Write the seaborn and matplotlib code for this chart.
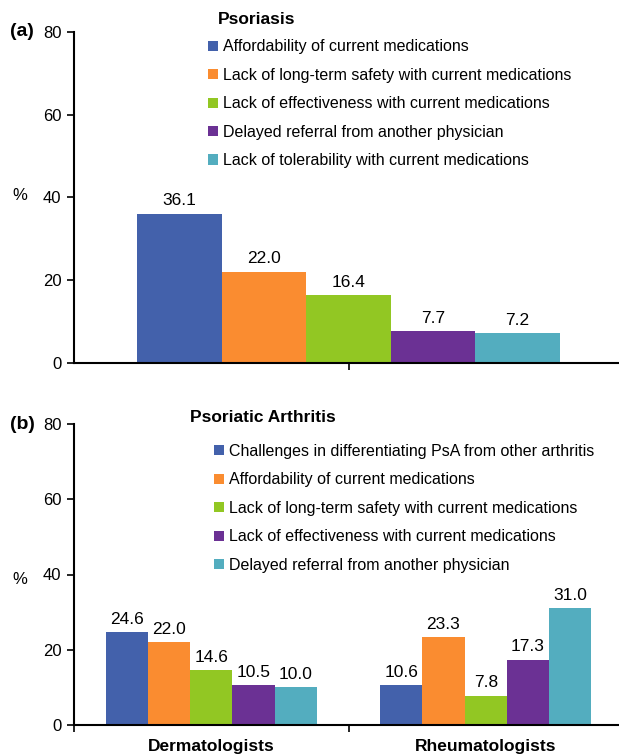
import matplotlib
matplotlib.use('Agg')
import matplotlib.pyplot as plt
import numpy as np
import pandas as pd
import seaborn as sb

# Barriers reported by physicians, % of respondents

colors = ['#4361AB', '#FA8C30', '#92C723', '#6B3194', '#53ADBF']

psoReasons = ['Affordability of current medications',
              'Lack of long-term safety with current medications',
              'Lack of effectiveness with current medications',
              'Delayed referral from another physician',
              'Lack of tolerability with current medications']
psoValues = [36.1, 22.0, 16.4, 7.7, 7.2]

psaReasons = ['Challenges in differentiating PsA from other arthritis',
              'Affordability of current medications',
              'Lack of long-term safety with current medications',
              'Lack of effectiveness with current medications',
              'Delayed referral from another physician']
psaGroups = ['Dermatologists', 'Rheumatologists']
psaDerm = [24.6, 22.0, 14.6, 10.5, 10.0]
psaRheum = [10.6, 23.3, 7.8, 17.3, 31.0]

sb.set_style('white')
plt.rcParams['font.family'] = ['Liberation Sans', 'DejaVu Sans']
plt.rcParams['text.color'] = 'black'
plt.rcParams['xtick.color'] = 'black'
plt.rcParams['ytick.color'] = 'black'
plt.rcParams['xtick.labelcolor'] = 'black'
plt.rcParams['ytick.labelcolor'] = 'black'

psoDf = pd.DataFrame({'group': ['Psoriasis'] * 5, 'reason': psoReasons, 'pct': psoValues})
psaDf = pd.DataFrame({'group': [psaGroups[0]] * 5 + [psaGroups[1]] * 5,
                      'reason': psaReasons + psaReasons,
                      'pct': psaDerm + psaRheum})

fig = plt.figure(figsize=(6.19, 7.55), dpi=100)
W, H = 619, 755
# axes run a bit past the right edge, as in the original crop
axA = fig.add_axes([74 / W, 1 - 363 / H, 549 / W, 331 / H])
axB = fig.add_axes([74 / W, 1 - 725 / H, 549 / W, 301 / H])


def style_axes(ax):
    for s in ['top', 'right']:
        ax.spines[s].set_visible(False)
    for s in ['left', 'bottom']:
        ax.spines[s].set_color('black')
        ax.spines[s].set_linewidth(1.5)
    ax.set_ylim(0, 80)
    ax.set_yticks([0, 20, 40, 60, 80])
    ax.tick_params(axis='y', which='major', direction='out', length=5, width=1.2,
                   color='black', labelsize=12, pad=4, left=True)
    ax.set_xlabel('')
    ax.set_ylabel('')
    for c in ax.containers:
        ax.bar_label(c, fmt='%.1f', padding=4, fontsize=12.5, color='black')


# (a) Psoriasis
sb.barplot(data=psoDf, x='group', y='pct', hue='reason', hue_order=psoReasons,
           palette=colors, width=0.77, gap=0, saturation=1, linewidth=0, ax=axA)
style_axes(axA)
axA.set_xlim(-0.5, 0.5)
axA.set_xticks([0])
axA.set_xticklabels([''])
axA.tick_params(axis='x', direction='out', length=5, width=1.2, color='black', bottom=True)
axA.legend(loc='upper left', bbox_to_anchor=((208 - 74) / 549, 1.0 - 7.5 / 331), frameon=False,
           fontsize=11.5, handlelength=0.6, handleheight=0.6, handletextpad=0.35,
           labelspacing=0.84, borderpad=0, borderaxespad=0)

# (b) Psoriatic Arthritis
sb.barplot(data=psaDf, x='group', y='pct', hue='reason', hue_order=psaReasons,
           palette=colors, width=0.77, gap=0, saturation=1, linewidth=0, ax=axB)
style_axes(axB)
axB.set_xlim(-0.5, 1.5)
axB.set_xticks([0, 1])
axB.set_xticklabels(psaGroups, fontsize=12.5, fontweight='bold')
axB.set_xticks([-0.5, 0.5, 1.5], minor=True)
axB.tick_params(axis='x', which='major', length=0, pad=10)
axB.tick_params(axis='x', which='minor', direction='out', length=5, width=1.2,
                color='black', bottom=True)
axB.legend(loc='upper left', bbox_to_anchor=((214 - 74) / 549, 1.0 - 20 / 301), frameon=False,
           fontsize=11.5, handlelength=0.6, handleheight=0.6, handletextpad=0.35,
           labelspacing=0.84, borderpad=0, borderaxespad=0)

# panel letters, titles and % labels
fig.text(10 / W, 1 - 31 / H, '(a)', fontsize=14, fontweight='bold', va='center')
fig.text(10 / W, 1 - 424 / H, '(b)', fontsize=14, fontweight='bold', va='center')
fig.text(218 / W, 1 - 20 / H, 'Psoriasis', fontsize=12.5, fontweight='bold', va='center')
fig.text(190 / W, 1 - 418 / H, 'Psoriatic Arthritis', fontsize=12.5, fontweight='bold', va='center')
fig.text(12 / W, 1 - 195 / H, '%', fontsize=12, va='center')
fig.text(12 / W, 1 - 580 / H, '%', fontsize=12, va='center')

plt.savefig('out.png', dpi=100)
